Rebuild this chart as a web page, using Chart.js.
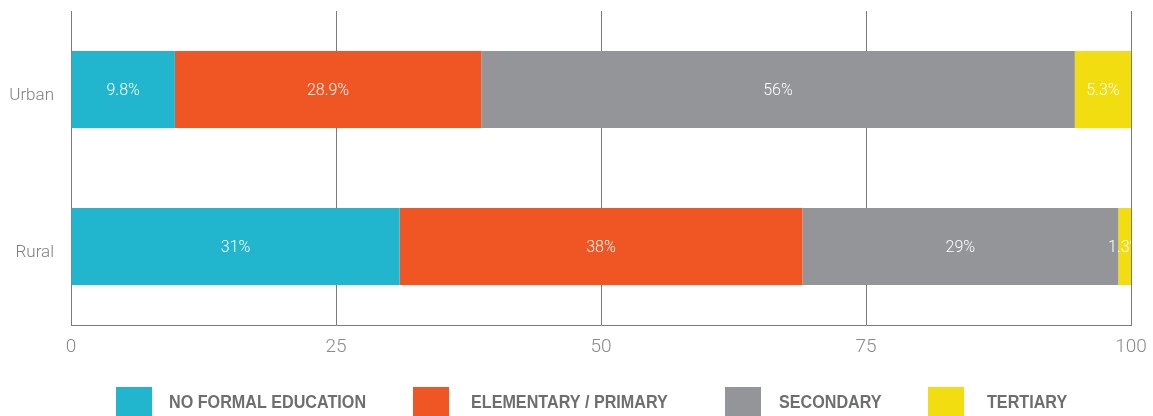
<!DOCTYPE html>
<html>
<head>
<meta charset="utf-8">
<script src="https://cdn.jsdelivr.net/npm/chart.js@4"></script>
<style>
  html, body { margin: 0; padding: 0; background: #fff; }
  #wrap { width: 1153px; height: 416px; }
</style>
</head>
<body>
<div id="wrap"><canvas id="chartCanvas" width="1153" height="416"></canvas></div>
<script>
// 資料
const areas = ['Urban', 'Rural'];
const seriesNames = ['NO FORMAL EDUCATION', 'ELEMENTARY / PRIMARY', 'SECONDARY', 'TERTIARY'];
const noFormal = [9.8, 31];
const elementary = [28.9, 38];
const secondary = [56, 29.8];
const tertiary = [5.3, 1.2];
const segmentLabels = [
    ['9.8%', '31%'],
    ['28.9%', '38%'],
    ['56%', '29%'],
    ['5.3%', '1.3%']
];
const xTicks = [0, 25, 50, 75, 100];

const colors = ['#21b6cd', '#f05624', '#939598', '#f1dd10'];

// 每段中間的白色數值
const barLabels = {
    id: 'barLabels',
    afterDatasetsDraw(chart) {
        const ctx = chart.ctx;
        const area = chart.chartArea;
        ctx.save();
        ctx.beginPath();
        ctx.rect(area.left, area.top, area.right - area.left, area.bottom - area.top);
        ctx.clip();
        ctx.fillStyle = '#ffffff';
        ctx.font = '300 16px Roboto';
        ctx.textAlign = 'center';
        ctx.textBaseline = 'middle';
        chart.data.datasets.forEach((ds, i) => {
            chart.getDatasetMeta(i).data.forEach((bar, j) => {
                const cx = (bar.x + bar.base) / 2;
                ctx.fillText(segmentLabels[i][j], cx, bar.y + 1);
            });
        });
        ctx.restore();
    }
};

// 底部圖例 (位置照原圖排)
const legendBoxX = [116, 413, 725, 928];
const legendTextX = [169, 471, 779, 987];
const bottomLegend = {
    id: 'bottomLegend',
    afterDraw(chart) {
        const ctx = chart.ctx;
        ctx.save();
        ctx.textBaseline = 'middle';
        seriesNames.forEach((name, i) => {
            ctx.fillStyle = colors[i];
            ctx.fillRect(legendBoxX[i], 387, 36, 32);
            // 窄體字:橫向壓縮
            ctx.save();
            ctx.translate(legendTextX[i], 403);
            ctx.scale(0.85, 1);
            ctx.font = 'bold 19px "Liberation Sans"';
            ctx.fillStyle = '#6d6e70';
            ctx.fillText(name, 0, 0);
            ctx.restore();
        });
        ctx.restore();
    }
};

const chartData = {
    labels: areas,
    datasets: [noFormal, elementary, secondary, tertiary].map((d, i) => ({
        label: seriesNames[i],
        data: d,
        backgroundColor: colors[i],
        borderWidth: 0,
        barPercentage: 0.49,
        categoryPercentage: 1
    }))
};

new Chart(document.getElementById('chartCanvas').getContext('2d'), {
    type: 'bar',
    data: chartData,
    plugins: [barLabels, bottomLegend],
    options: {
        indexAxis: 'y',
        responsive: false,
        animation: false,
        layout: { padding: { top: 11, right: 22, left: 0, bottom: 0 } },
        plugins: {
            legend: { display: false },
            tooltip: { enabled: false }
        },
        scales: {
            x: {
                stacked: true,
                min: 0,
                max: 100,
                afterBuildTicks(scale) {
                    scale.ticks = xTicks.map(v => ({ value: v }));
                },
                afterFit(scale) {
                    scale.height = 91;
                    scale.paddingLeft = 0;
                    scale.paddingRight = 0;
                },
                grid: { color: '#7a7a7a', lineWidth: 1, drawTicks: false },
                border: { display: true, color: '#7a7a7a', width: 1 },
                ticks: {
                    padding: 11,
                    color: '#8a8a8a',
                    font: { family: 'Roboto', size: 19, weight: '300' }
                }
            },
            y: {
                stacked: true,
                afterFit(scale) {
                    scale.width = 71;
                    scale.paddingTop = 0;
                    scale.paddingBottom = 0;
                },
                grid: { display: false, drawTicks: false },
                border: { display: false },
                ticks: {
                    padding: 17,
                    labelOffset: 6,
                    color: '#7f7f7f',
                    font: { family: 'Roboto', size: 17, weight: '300' }
                }
            }
        }
    }
});
</script>
</body>
</html>
